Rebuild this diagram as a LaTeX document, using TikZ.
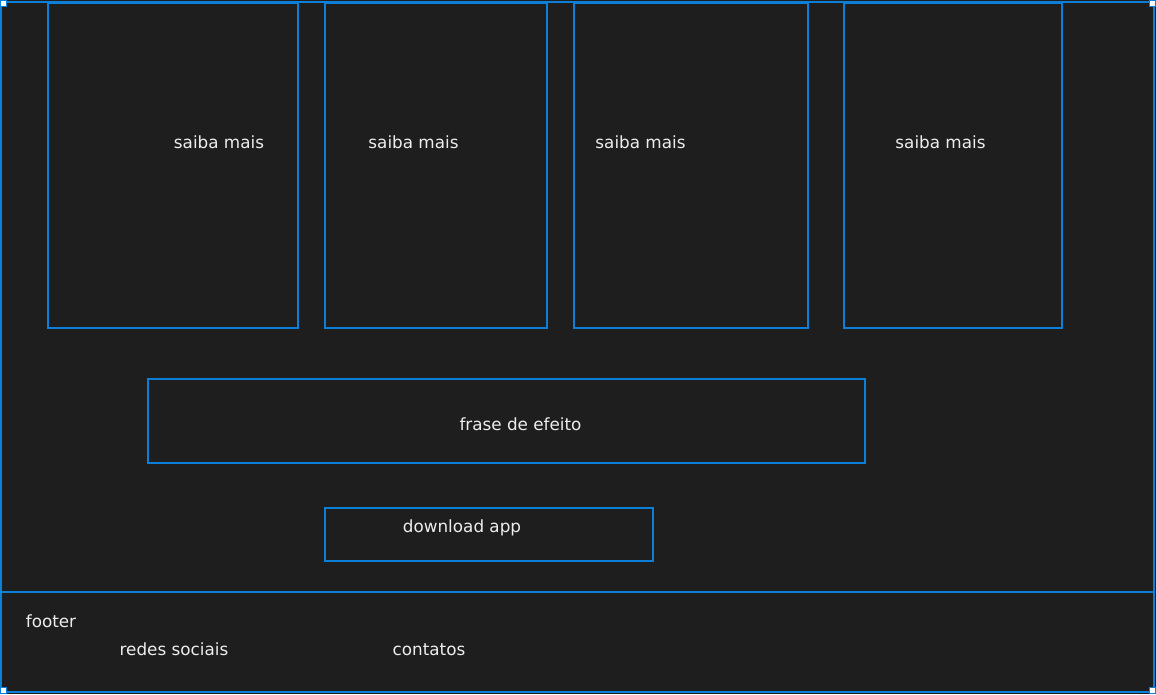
\documentclass[tikz,border=0pt]{standalone}
\usepackage{fontspec}
\setmainfont{DejaVu Sans}
\definecolor{bg}{HTML}{1E1E1E}
\definecolor{frameblue}{HTML}{0C7FD9}
\definecolor{txt}{HTML}{EDEDED}
\tikzset{
  box/.style={draw=frameblue, line width=1.9pt, inner sep=0pt, outer sep=0pt, fill=none},
  lbl/.style={text=txt, font=\fontsize{16.8pt}{20pt}\selectfont, inner sep=0pt, anchor=base},
  handle/.style={draw=frameblue, fill=white, line width=1pt, inner sep=0pt, minimum size=6pt}
}
\begin{document}
\begin{tikzpicture}[x=1pt,y=-1pt]
\fill[bg] (0,0) rectangle (1156,694);
\useasboundingbox (0,0) rectangle (1156,694);
% outer frame
\node[box, minimum width=1153pt, minimum height=690pt] (outer) at (577.5,347) {};
% cards
\node[box, minimum width=250pt, minimum height=325pt] (c1) at (173,165.5) {};
\node[box, minimum width=222pt, minimum height=325pt] (c2) at (436,165.5) {};
\node[box, minimum width=234pt, minimum height=325pt] (c3) at (691,165.5) {};
\node[box, minimum width=218pt, minimum height=325pt] (c4) at (953,165.5) {};
% phrase and download
\node[box, minimum width=717pt, minimum height=84pt] (frase) at (506.5,421) {};
\node[box, minimum width=328pt, minimum height=53pt] (dl) at (489,534.5) {};
% footer
\node[box, minimum width=1153pt, minimum height=100pt] (footer) at (577.5,642) {};
% labels
\node[lbl] (t1) at (219,148) {saiba mais};
\node[lbl] (t2) at (413.5,148) {saiba mais};
\node[lbl] (t3) at (640.5,148) {saiba mais};
\node[lbl] (t4) at (940.5,148) {saiba mais};
\node[lbl] (tf) at (520.5,430.5) {frase de efeito};
\node[lbl] (td) at (462,532.5) {download app};
\node[lbl] (tfo) at (51,627.3) {footer};
\node[lbl] (tr) at (174,655.5) {redes sociais};
\node[lbl] (tc) at (429,655.5) {contatos};
% selection handles
\node[handle] (h1) at (3,3.5) {};
\node[handle] (h2) at (1152.5,3.5) {};
\node[handle] (h3) at (3,690.5) {};
\node[handle] (h4) at (1152.5,690.5) {};
\end{tikzpicture}
\end{document}
